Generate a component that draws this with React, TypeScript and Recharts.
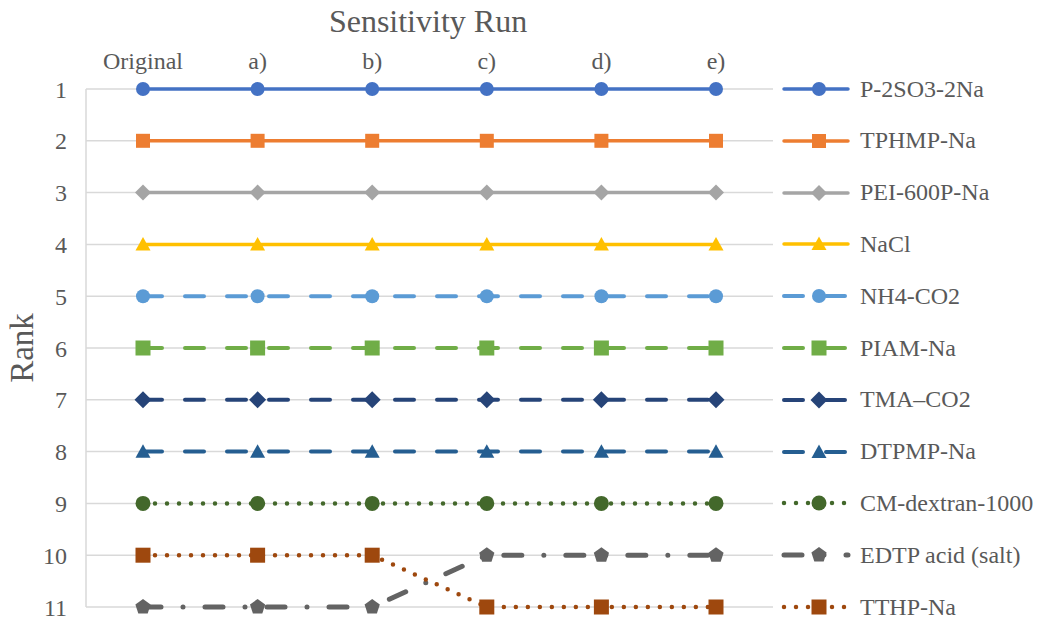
import React from 'react';
import { LineChart, Line, XAxis, YAxis, CartesianGrid } from 'recharts';

const runs = ['Original', 'a)', 'b)', 'c)', 'd)', 'e)'];
const rankTicks = [1, 2, 3, 4, 5, 6, 7, 8, 9, 10, 11];

const p2so3 = [1, 1, 1, 1, 1, 1];
const tphmp = [2, 2, 2, 2, 2, 2];
const pei600p = [3, 3, 3, 3, 3, 3];
const nacl = [4, 4, 4, 4, 4, 4];
const nh4co2 = [5, 5, 5, 5, 5, 5];
const piam = [6, 6, 6, 6, 6, 6];
const tmaco2 = [7, 7, 7, 7, 7, 7];
const dtpmp = [8, 8, 8, 8, 8, 8];
const cmdextran = [9, 9, 9, 9, 9, 9];
const edtp = [11, 11, 11, 10, 10, 10];
const tthp = [10, 10, 10, 11, 11, 11];

type Shape = 'circle' | 'square' | 'diamond' | 'triangle' | 'pentagon';

const series: { key: string; name: string; values: number[]; color: string; dash?: string; width: number; shape: Shape; size: number }[] = [
  { key: 's1', name: 'P-2SO3-2Na', values: p2so3, color: '#4472C4', width: 3.5, shape: 'circle', size: 7 },
  { key: 's2', name: 'TPHMP-Na', values: tphmp, color: '#ED7D31', width: 3.5, shape: 'square', size: 7 },
  { key: 's3', name: 'PEI-600P-Na', values: pei600p, color: '#A5A5A5', width: 3.5, shape: 'diamond', size: 7 },
  { key: 's4', name: 'NaCl', values: nacl, color: '#FFC000', width: 3.5, shape: 'triangle', size: 7.5 },
  { key: 's5', name: 'NH4-CO2', values: nh4co2, color: '#5B9BD5', dash: '19 23', width: 4, shape: 'circle', size: 7 },
  { key: 's6', name: 'PIAM-Na', values: piam, color: '#70AD47', dash: '19 23', width: 4, shape: 'square', size: 7.5 },
  { key: 's7', name: 'TMA\u2013CO2', values: tmaco2, color: '#264478', dash: '19 23', width: 4, shape: 'diamond', size: 7.5 },
  { key: 's8', name: 'DTPMP-Na', values: dtpmp, color: '#255E91', dash: '19 23', width: 4, shape: 'triangle', size: 7.5 },
  { key: 's9', name: 'CM-dextran-1000', values: cmdextran, color: '#43682B', dash: '0 12', width: 4.5, shape: 'circle', size: 7.5 },
  { key: 's10', name: 'EDTP acid (salt)', values: edtp, color: '#636363', dash: '18 22 0 22', width: 5, shape: 'pentagon', size: 8 },
  { key: 's11', name: 'TTHP-Na', values: tthp, color: '#9E480E', dash: '0 12', width: 4.5, shape: 'square', size: 7.5 },
];

const data = runs.map((run, i) => {
  const row: Record<string, string | number> = { run };
  series.forEach((s) => { row[s.key] = s.values[i]; });
  return row;
});

const FONT = '"Liberation Serif", "Times New Roman", serif';
const TEXT = '#595959';

function Marker({ cx, cy, shape, size, color }: { cx: number; cy: number; shape: Shape; size: number; color: string }) {
  if (shape === 'circle') return <circle cx={cx} cy={cy} r={size} fill={color} />;
  if (shape === 'square') return <rect x={cx - size} y={cy - size} width={size * 2} height={size * 2} fill={color} />;
  if (shape === 'diamond') {
    const d = size + 1;
    return <polygon points={`${cx},${cy - d} ${cx + d},${cy} ${cx},${cy + d} ${cx - d},${cy}`} fill={color} />;
  }
  if (shape === 'triangle') {
    const h = size * 1.8;
    return <polygon points={`${cx},${cy - h * 0.55} ${cx + size},${cy + h * 0.45} ${cx - size},${cy + h * 0.45}`} fill={color} />;
  }
  const pts = [0, 1, 2, 3, 4].map((k) => {
    const a = -Math.PI / 2 + (k * 2 * Math.PI) / 5;
    return `${cx + size * Math.cos(a)},${cy + size * Math.sin(a)}`;
  });
  return <polygon points={pts.join(' ')} fill={color} />;
}

export default function App() {
  const rowY = (i: number) => 89 + i * 51.8;
  return (
    <div style={{ position: 'absolute', left: 0, top: 0, width: 1038, height: 621, background: '#fff', fontFamily: FONT }}>
      <div style={{ position: 'absolute', left: 228, width: 400, top: 3, textAlign: 'center', fontSize: 32, lineHeight: '36px', color: TEXT }}>
        Sensitivity Run
      </div>
      <div style={{ position: 'absolute', left: 22, top: 348, transform: 'translate(-50%, -50%) rotate(-90deg)', fontSize: 33, color: TEXT }}>
        Rank
      </div>
      <LineChart width={1038} height={621} data={data} margin={{ top: 59, right: 265, bottom: 14, left: 0 }}>
        <CartesianGrid vertical={false} stroke="#d9d9d9" strokeWidth={1.5} />
        <XAxis
          dataKey="run"
          orientation="top"
          height={30}
          axisLine={false}
          tickLine={false}
          tickMargin={14}
          padding={{ left: 57, right: 57 }}
          tick={{ fill: TEXT, fontSize: 24, fontFamily: FONT }}
        />
        <YAxis
          type="number"
          domain={[1, 11]}
          ticks={rankTicks}
          reversed
          width={86}
          tickLine={false}
          tickMargin={13}
          axisLine={{ stroke: '#d9d9d9', strokeWidth: 1.5 }}
          tick={{ fill: TEXT, fontSize: 24, fontFamily: FONT }}
        />
        {series.map((s) => (
          <Line
            key={s.key}
            dataKey={s.key}
            name={s.name}
            type="linear"
            stroke={s.color}
            strokeWidth={s.width}
            strokeDasharray={s.dash}
            strokeLinecap="round"
            isAnimationActive={false}
            activeDot={false}
            dot={(p: any) => (
              <Marker key={`${s.key}-${p.index}`} cx={p.cx} cy={p.cy} shape={s.shape} size={s.size} color={s.color} />
            )}
          />
        ))}
      </LineChart>
      {series.map((s, i) => (
        <div key={s.key} style={{ position: 'absolute', left: 780, top: rowY(i) - 15, height: 30, display: 'flex', alignItems: 'center' }}>
          <svg width={72} height={30} style={{ display: 'block' }}>
            <line x1={4} y1={15} x2={68} y2={15} stroke={s.color} strokeWidth={s.width} strokeDasharray={s.dash} strokeLinecap="round" />
            <Marker cx={39} cy={15} shape={s.shape} size={s.size} color={s.color} />
          </svg>
          <span style={{ marginLeft: 8, fontSize: 24, color: TEXT, whiteSpace: 'nowrap' }}>{s.name}</span>
        </div>
      ))}
    </div>
  );
}
